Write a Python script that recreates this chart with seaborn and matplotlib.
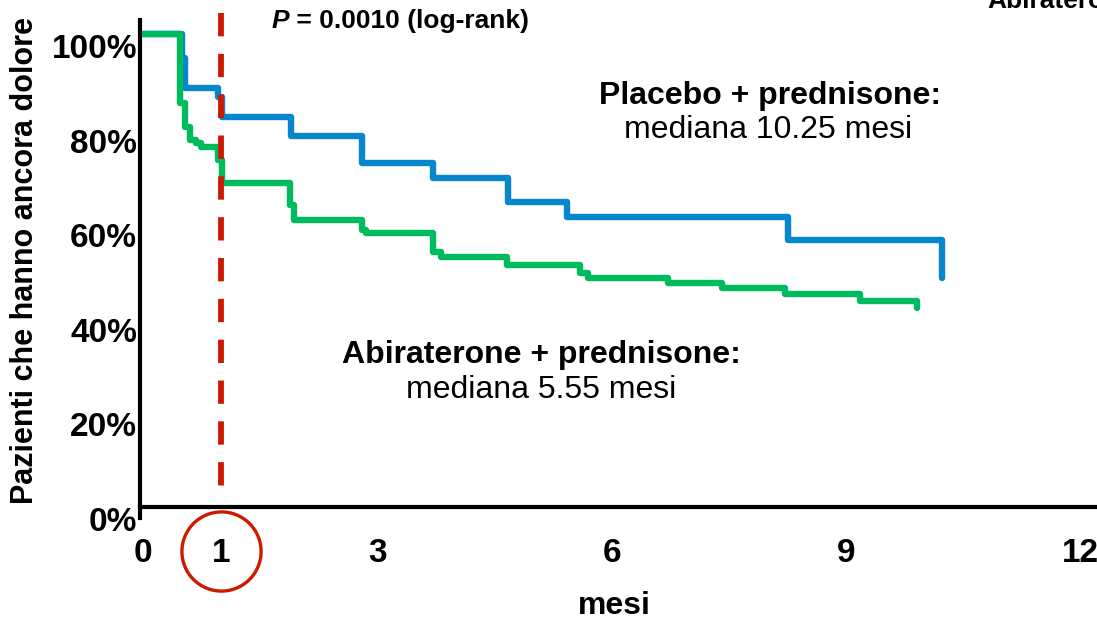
import numpy as np
import pandas as pd
import matplotlib
matplotlib.use("Agg")
import matplotlib.pyplot as plt
import matplotlib.transforms as mtransforms
import seaborn as sns

# ---- data ----
months_placebo = [0.0, 0.50, 0.54, 0.96, 1.01, 1.89, 2.80, 3.71, 4.67, 5.43, 8.26, 10.23]
surv_placebo = [1.000, 0.949, 0.886, 0.867, 0.825, 0.784, 0.727, 0.696, 0.645, 0.613, 0.564, 0.484]

months_abi = [0.0, 0.47, 0.54, 0.60, 0.68, 0.74, 0.96, 1.01, 1.88, 1.93, 2.80, 2.86,
              3.71, 3.82, 4.66, 5.60, 5.70, 6.72, 7.41, 8.22, 9.18, 9.91]
surv_abi = [1.000, 0.854, 0.803, 0.776, 0.770, 0.761, 0.734, 0.685, 0.638, 0.607, 0.586, 0.579,
            0.539, 0.529, 0.512, 0.495, 0.484, 0.474, 0.463, 0.450, 0.436, 0.421]

group_names = ["Placebo + prednisone", "Abiraterone + prednisone"]
x_ticks = [0, 1, 3, 6, 9, 12]
x_tick_labels = ["0", "1", "3", "6", "9", "12"]
y_ticks = [0, 0.2, 0.4, 0.6, 0.8, 1.0]
y_tick_labels = ["0%", "20%", "40%", "60%", "80%", "100%"]
highlight_month = 1

df = pd.DataFrame({
    "mesi": months_placebo + months_abi,
    "surv": surv_placebo + surv_abi,
    "gruppo": [group_names[0]] * len(months_placebo) + [group_names[1]] * len(months_abi),
})

BLUE = "#0686CC"
GREEN = "#00BA5E"
RED = "#CC1A00"

sns.set_theme(style="white")
plt.rcParams["font.family"] = ["Liberation Sans", "DejaVu Sans"]
plt.rcParams["text.color"] = "black"
plt.rcParams["axes.labelcolor"] = "black"
plt.rcParams["xtick.color"] = "black"
plt.rcParams["ytick.color"] = "black"

W, H = 1097, 621
fig = plt.figure(figsize=(W / 100, H / 100), dpi=100)
ax_left, ax_right, ax_top, ax_bot = 140, 1097, 20, 518
ax = fig.add_axes([ax_left / W, 1 - ax_bot / H, (ax_right - ax_left) / W, (ax_bot - ax_top) / H])

sns.lineplot(data=df, x="mesi", y="surv", hue="gruppo",
             palette={group_names[0]: BLUE, group_names[1]: GREEN},
             estimator=None, sort=False, drawstyle="steps-post",
             linewidth=4.6, legend=False, ax=ax,
             solid_joinstyle="round", solid_capstyle="round")

ax.set_xlim(-0.038, 12.215)
ax.set_ylim(-0.0233, 1.0296)

for s in ["top", "right"]:
    ax.spines[s].set_visible(False)
ax.spines["bottom"].set_position(("data", 0))
for s in ["left", "bottom"]:
    ax.spines[s].set_color("black")
    ax.spines[s].set_linewidth(3)

ax.set_xticks(x_ticks)
ax.set_xticklabels(x_tick_labels, fontsize=24, fontweight="bold")
ax.set_yticks(y_ticks)
ax.set_yticklabels(y_tick_labels, fontsize=24, fontweight="bold")
ax.tick_params(axis="x", length=0, pad=22)
ax.tick_params(axis="y", length=0, pad=2)
off = mtransforms.ScaledTranslation(0, -0.12, fig.dpi_scale_trans)
for lab in ax.get_yticklabels():
    lab.set_transform(lab.get_transform() + off)

ax.set_ylabel("Pazienti che hanno ancora dolore", fontsize=22, fontweight="bold",
              va="center")
ax.yaxis.set_label_coords((25 - ax_left) / (ax_right - ax_left), (ax_bot - 260) / (ax_bot - ax_top))
ax.set_xlabel("mesi", fontsize=23, fontweight="bold", va="center")
ax.xaxis.set_label_coords((614 - ax_left) / (ax_right - ax_left), (ax_bot - 606) / (ax_bot - ax_top))

# dashed marker at month 1 (drawn top to bottom) and circle round its tick label
ax.plot([highlight_month, highlight_month], [1.044, 0.017], color=RED, lw=4.2,
        dashes=(4, 3), clip_on=False, zorder=5)
ax.plot([highlight_month], [-0.094], marker="o", ms=57, mfc="none", mec=RED,
        mew=2.4, clip_on=False, zorder=5)

# annotations
t1 = ax.text(1.65, 1.027, "P", fontsize=19, fontweight="bold", style="italic",
             ha="left", va="center", clip_on=False)
ax.annotate(" = 0.0010 (log-rank)", xy=(1, 0), xycoords=t1, fontsize=19,
            fontweight="bold", ha="left", va="bottom")

ax.text(8.03, 0.869, "Placebo + prednisone:", fontsize=23, fontweight="bold",
        ha="center", va="center")
ax.text(8.0, 0.797, "mediana 10.25 mesi", fontsize=23, ha="center", va="center")
ax.text(5.10, 0.321, "Abiraterone + prednisone:", fontsize=23, fontweight="bold",
        ha="center", va="center")
ax.text(5.10, 0.247, "mediana 5.55 mesi", fontsize=23, ha="center", va="center")

# label cut by the right/top edge, as in the reference
fig.text(987 / W, 1 - 8 / H, "Abiraterone", fontsize=19, fontweight="bold",
         ha="left", va="baseline")

fig.savefig("out.png", dpi=100)
